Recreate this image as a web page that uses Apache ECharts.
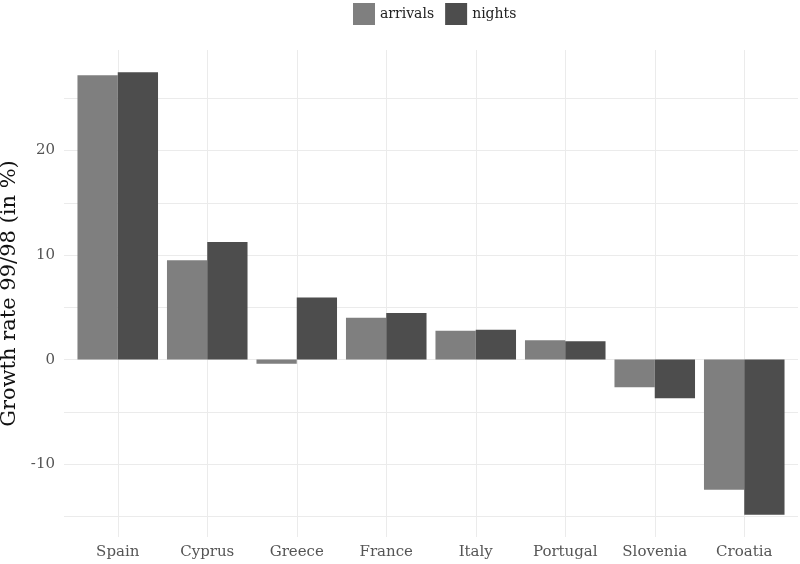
<!DOCTYPE html>
<html>
<head>
<meta charset="utf-8">
<script src="https://cdn.jsdelivr.net/npm/echarts@6/dist/echarts.min.js"></script>
<style>
  html, body { margin: 0; padding: 0; background: #fff; }
  #chart { width: 800px; height: 564px; }
</style>
</head>
<body>
<div id="chart"></div>
<script>
var countries = ['Spain', 'Cyprus', 'Greece', 'France', 'Italy', 'Portugal', 'Slovenia', 'Croatia'];
var arrivals = [27.2, 9.5, -0.4, 4.0, 2.75, 1.85, -2.65, -12.45];
var nights = [27.5, 11.25, 5.95, 4.45, 2.85, 1.75, -3.7, -14.85];
var yLabels = [-10, 0, 10, 20];

var font = 'DejaVu Serif';
var yMin = -16.97, yMax = 29.62;

var myChart = echarts.init(document.getElementById('chart'));

var option = {
    backgroundColor: '#fff',
    animation: false,
    textStyle: { fontFamily: font },
    legend: {
        top: 3,
        left: 353,
        padding: 0,
        itemWidth: 22,
        itemHeight: 22,
        itemGap: 11,
        icon: 'rect',
        textStyle: { fontFamily: font, fontSize: 14, color: '#222' },
        data: ['arrivals', 'nights']
    },
    grid: [
        // wide grid: horizontal grid lines and y labels
        { left: 64, right: 2, top: 50, bottom: 27, outerBoundsMode: 'none', containLabel: false },
        // bar grid: ggplot-style narrower category band
        { left: 73, right: 11, top: 50, bottom: 27, outerBoundsMode: 'none', containLabel: false }
    ],
    xAxis: [{
        gridIndex: 0,
        type: 'category',
        data: countries,
        show: false
    }, {
        gridIndex: 1,
        type: 'category',
        data: countries,
        axisLine: { show: false },
        axisTick: { show: false, alignWithLabel: true },
        axisLabel: { color: '#555', fontSize: 15, fontFamily: font, margin: 8 },
        splitLine: { show: true, alignWithLabel: true, lineStyle: { color: '#ebebeb', width: 1 } }
    }],
    yAxis: [{
        gridIndex: 0,
        type: 'value',
        min: yMin,
        max: yMax,
        minInterval: 5,
        maxInterval: 5,
        name: 'Growth rate 99/98 (in %)',
        nameLocation: 'middle',
        nameGap: 39,
        nameTextStyle: { fontSize: 21, color: '#111', fontFamily: font },
        axisLine: { show: false },
        axisTick: { show: false },
        axisLabel: {
            color: '#555', fontSize: 15, fontFamily: font, margin: 9,
            formatter: function (v) {
                return yLabels.indexOf(Math.round(v * 100) / 100) >= 0 ? String(v) : '';
            }
        },
        splitLine: { show: true, showMinLine: false, showMaxLine: false, lineStyle: { color: '#ebebeb', width: 1 } }
    }, {
        gridIndex: 1,
        type: 'value',
        min: yMin,
        max: yMax,
        show: false,
        splitLine: { show: false }
    }],
    series: [{
        name: 'arrivals',
        type: 'bar',
        xAxisIndex: 1,
        yAxisIndex: 1,
        data: arrivals,
        barGap: '0%',
        barCategoryGap: '10%',
        itemStyle: { color: '#7f7f7f' }
    }, {
        name: 'nights',
        type: 'bar',
        xAxisIndex: 1,
        yAxisIndex: 1,
        data: nights,
        barGap: '0%',
        barCategoryGap: '10%',
        itemStyle: { color: '#4d4d4d' }
    }]
};

myChart.setOption(option);
</script>
</body>
</html>
